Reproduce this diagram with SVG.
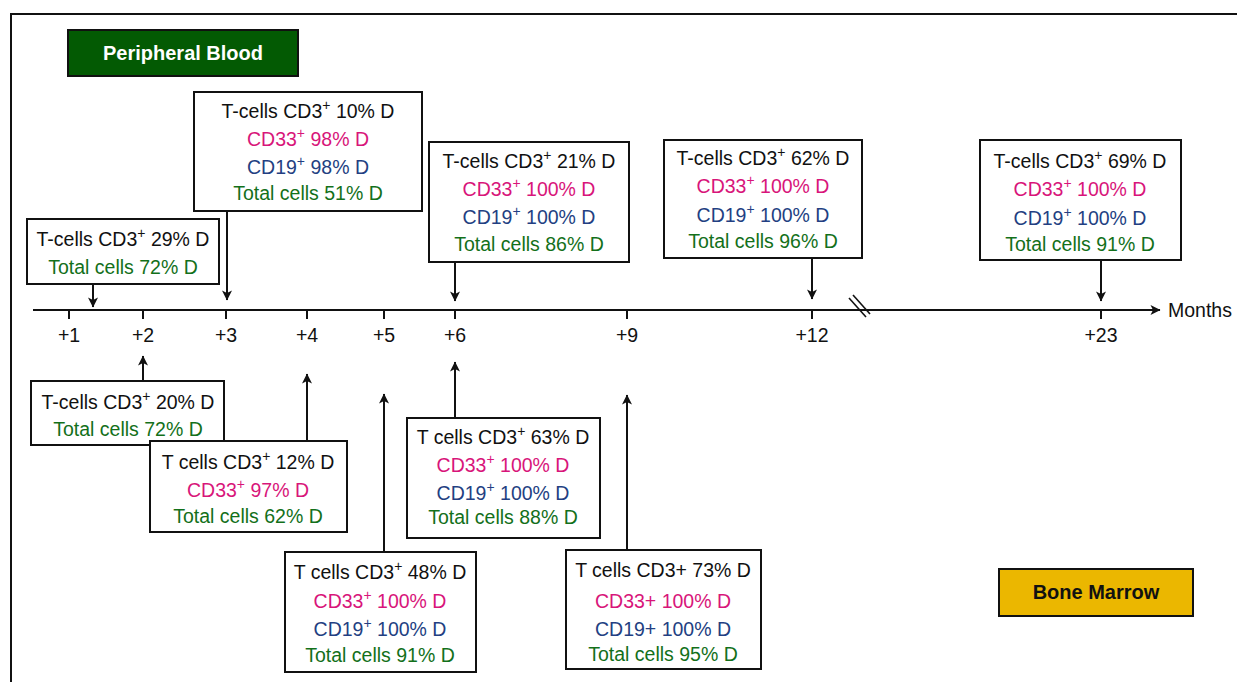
<svg xmlns="http://www.w3.org/2000/svg" width="1237" height="682" viewBox="0 0 1237 682">
  <style>
    text { font-family: "Liberation Sans", Arial, sans-serif; font-size: 19.5px; text-anchor: middle; }
    .box { fill: #ffffff; stroke: #111111; stroke-width: 2; }
    .k { fill: #111111; }
    .m { fill: #d8157a; }
    .b { fill: #233f82; }
    .g { fill: #13701a; }
    .sup { font-size: 14px; }
    .conn { stroke: #111111; stroke-width: 2; fill: none; }
    .tick { stroke: #111111; stroke-width: 2; }
    .title { font-weight: bold; font-size: 20px; }
  </style>
  <defs>
    <marker id="arrow" viewBox="0 0 10 10" refX="9.5" refY="5" markerWidth="13" markerHeight="10" orient="auto" markerUnits="userSpaceOnUse">
      <path d="M0,0 L10,5 L0,10 L2.5,5 Z" fill="#111111"/>
    </marker>
    <marker id="arrowAxis" viewBox="0 0 10 10" refX="9.5" refY="5" markerWidth="14" markerHeight="10" orient="auto" markerUnits="userSpaceOnUse">
      <path d="M0,0 L10,5 L0,10 L2.5,5 Z" fill="#111111"/>
    </marker>
  </defs>

  <!-- frame -->
  <path d="M11,682 V14 H1237" fill="none" stroke="#111111" stroke-width="2"/>

  <!-- legend labels -->
  <g id="peripheral-blood">
    <rect x="68" y="30" width="230" height="46" fill="#035a03" stroke="#111111" stroke-width="2"/>
    <text x="183" y="60" class="title" fill="#ffffff">Peripheral Blood</text>
  </g>
  <g id="bone-marrow">
    <rect x="999" y="569" width="194" height="47" fill="#ebb700" stroke="#111111" stroke-width="2"/>
    <text x="1096" y="599" class="title" fill="#111111">Bone Marrow</text>
  </g>

  <!-- time axis -->
  <g id="axis">
    <line x1="33" y1="310" x2="1160" y2="310" stroke="#111111" stroke-width="2" marker-end="url(#arrowAxis)"/>
    <line class="tick" x1="69" y1="310" x2="69" y2="319"/>
    <line class="tick" x1="143" y1="310" x2="143" y2="319"/>
    <line class="tick" x1="226" y1="310" x2="226" y2="319"/>
    <line class="tick" x1="307" y1="310" x2="307" y2="319"/>
    <line class="tick" x1="384" y1="310" x2="384" y2="319"/>
    <line class="tick" x1="455" y1="310" x2="455" y2="319"/>
    <line class="tick" x1="627" y1="310" x2="627" y2="319"/>
    <line class="tick" x1="812" y1="310" x2="812" y2="319"/>
    <line class="tick" x1="1101" y1="310" x2="1101" y2="319"/>
    <line x1="849" y1="298" x2="866" y2="317" stroke="#111111" stroke-width="1.6"/>
    <line x1="853" y1="295" x2="870" y2="314" stroke="#111111" stroke-width="1.6"/>
    <text x="69" y="342" class="k">+1</text>
    <text x="143" y="342" class="k">+2</text>
    <text x="226" y="342" class="k">+3</text>
    <text x="307" y="342" class="k">+4</text>
    <text x="384" y="342" class="k">+5</text>
    <text x="455" y="342" class="k">+6</text>
    <text x="627" y="342" class="k">+9</text>
    <text x="812" y="342" class="k">+12</text>
    <text x="1101" y="342" class="k">+23</text>
    <text x="1168" y="317" class="k" style="text-anchor:start">Months</text>
  </g>

  <!-- connectors -->
  <g id="connectors">
    <line class="conn" x1="93" y1="284" x2="93" y2="307" marker-end="url(#arrow)"/>
    <line class="conn" x1="227" y1="211" x2="227" y2="300" marker-end="url(#arrow)"/>
    <line class="conn" x1="455" y1="262" x2="455" y2="301" marker-end="url(#arrow)"/>
    <line class="conn" x1="812" y1="258" x2="812" y2="299" marker-end="url(#arrow)"/>
    <line class="conn" x1="1101" y1="260" x2="1101" y2="301" marker-end="url(#arrow)"/>
    <line class="conn" x1="143" y1="381" x2="143" y2="356" marker-end="url(#arrow)"/>
    <line class="conn" x1="307" y1="441" x2="307" y2="374" marker-end="url(#arrow)"/>
    <line class="conn" x1="384" y1="552" x2="384" y2="394" marker-end="url(#arrow)"/>
    <line class="conn" x1="455" y1="418" x2="455" y2="362" marker-end="url(#arrow)"/>
    <line class="conn" x1="627" y1="550" x2="627" y2="395" marker-end="url(#arrow)"/>
  </g>

  <!-- peripheral blood samples -->
  <g id="pb-m1">
    <rect class="box" x="27" y="219" width="192" height="65"/>
    <text x="123" y="246" class="k">T-cells CD3<tspan class="sup" dy="-8">+</tspan><tspan dy="8"> 29% D</tspan></text>
    <text x="123" y="274" class="g">Total cells 72% D</text>
  </g>
  <g id="pb-m3">
    <rect class="box" x="194" y="92" width="228" height="119"/>
    <text x="308" y="118" class="k">T-cells CD3<tspan class="sup" dy="-8">+</tspan><tspan dy="8"> 10% D</tspan></text>
    <text x="308" y="146" class="m">CD33<tspan class="sup" dy="-8">+</tspan><tspan dy="8"> 98% D</tspan></text>
    <text x="308" y="174" class="b">CD19<tspan class="sup" dy="-8">+</tspan><tspan dy="8"> 98% D</tspan></text>
    <text x="308" y="200" class="g">Total cells 51% D</text>
  </g>
  <g id="pb-m6">
    <rect class="box" x="429" y="142" width="200" height="120"/>
    <text x="529" y="168" class="k">T-cells CD3<tspan class="sup" dy="-8">+</tspan><tspan dy="8"> 21% D</tspan></text>
    <text x="529" y="196" class="m">CD33<tspan class="sup" dy="-8">+</tspan><tspan dy="8"> 100% D</tspan></text>
    <text x="529" y="224" class="b">CD19<tspan class="sup" dy="-8">+</tspan><tspan dy="8"> 100% D</tspan></text>
    <text x="529" y="251" class="g">Total cells 86% D</text>
  </g>
  <g id="pb-m12">
    <rect class="box" x="664" y="140" width="198" height="118"/>
    <text x="763" y="165" class="k">T-cells CD3<tspan class="sup" dy="-8">+</tspan><tspan dy="8"> 62% D</tspan></text>
    <text x="763" y="193" class="m">CD33<tspan class="sup" dy="-8">+</tspan><tspan dy="8"> 100% D</tspan></text>
    <text x="763" y="222" class="b">CD19<tspan class="sup" dy="-8">+</tspan><tspan dy="8"> 100% D</tspan></text>
    <text x="763" y="248" class="g">Total cells 96% D</text>
  </g>
  <g id="pb-m23">
    <rect class="box" x="980" y="140" width="201" height="120"/>
    <text x="1080" y="168" class="k">T-cells CD3<tspan class="sup" dy="-8">+</tspan><tspan dy="8"> 69% D</tspan></text>
    <text x="1080" y="196" class="m">CD33<tspan class="sup" dy="-8">+</tspan><tspan dy="8"> 100% D</tspan></text>
    <text x="1080" y="225" class="b">CD19<tspan class="sup" dy="-8">+</tspan><tspan dy="8"> 100% D</tspan></text>
    <text x="1080" y="251" class="g">Total cells 91% D</text>
  </g>

  <!-- bone marrow samples -->
  <g id="bm-m2">
    <rect class="box" x="31" y="381" width="193" height="64"/>
    <text x="128" y="409" class="k">T-cells CD3<tspan class="sup" dy="-8">+</tspan><tspan dy="8"> 20% D</tspan></text>
    <text x="128" y="436" class="g">Total cells 72% D</text>
  </g>
  <g id="bm-m4">
    <rect class="box" x="150" y="441" width="197" height="91"/>
    <text x="248" y="469" class="k">T cells CD3<tspan class="sup" dy="-8">+</tspan><tspan dy="8"> 12% D</tspan></text>
    <text x="248" y="497" class="m">CD33<tspan class="sup" dy="-8">+</tspan><tspan dy="8"> 97% D</tspan></text>
    <text x="248" y="523" class="g">Total cells 62% D</text>
  </g>
  <g id="bm-m6">
    <rect class="box" x="407" y="418" width="193" height="120"/>
    <text x="503" y="444" class="k">T cells CD3<tspan class="sup" dy="-8">+</tspan><tspan dy="8"> 63% D</tspan></text>
    <text x="503" y="472" class="m">CD33<tspan class="sup" dy="-8">+</tspan><tspan dy="8"> 100% D</tspan></text>
    <text x="503" y="500" class="b">CD19<tspan class="sup" dy="-8">+</tspan><tspan dy="8"> 100% D</tspan></text>
    <text x="503" y="524" class="g">Total cells 88% D</text>
  </g>
  <g id="bm-m5">
    <rect class="box" x="285" y="552" width="191" height="120"/>
    <text x="380" y="579" class="k">T cells CD3<tspan class="sup" dy="-8">+</tspan><tspan dy="8"> 48% D</tspan></text>
    <text x="380" y="608" class="m">CD33<tspan class="sup" dy="-8">+</tspan><tspan dy="8"> 100% D</tspan></text>
    <text x="380" y="636" class="b">CD19<tspan class="sup" dy="-8">+</tspan><tspan dy="8"> 100% D</tspan></text>
    <text x="380" y="662" class="g">Total cells 91% D</text>
  </g>
  <g id="bm-m9">
    <rect class="box" x="566" y="550" width="195" height="119"/>
    <text x="663" y="577" class="k">T cells CD3+ 73% D</text>
    <text x="663" y="608" class="m">CD33+ 100% D</text>
    <text x="663" y="636" class="b">CD19+ 100% D</text>
    <text x="663" y="661" class="g">Total cells 95% D</text>
  </g>
</svg>
